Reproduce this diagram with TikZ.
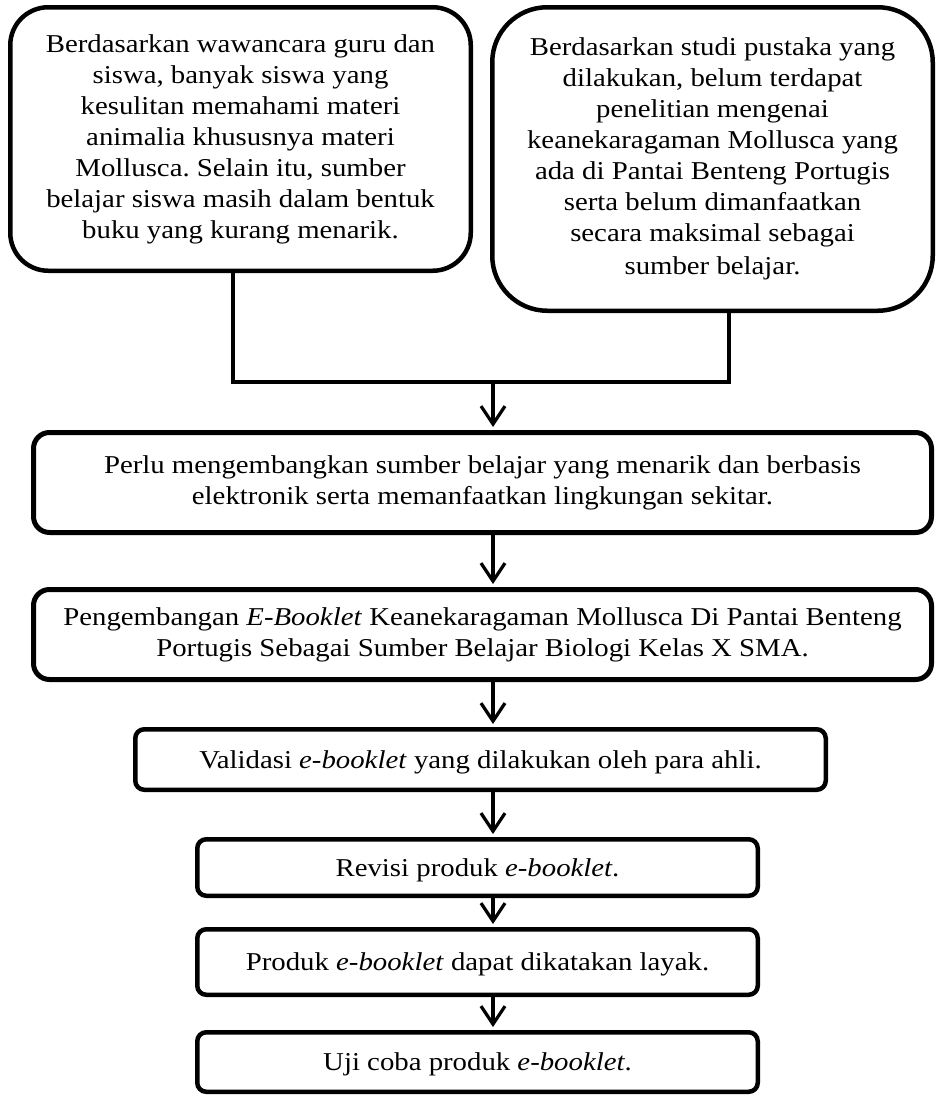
\documentclass[tikz,border=0pt]{standalone}
\usepackage{fontspec}
\setmainfont{Liberation Serif}[FakeStretch=1.12]
\usetikzlibrary{arrows.meta,calc}
\frenchspacing
\tikzset{
  box/.style={draw=black, fill=white, align=center, inner sep=0pt, font=\fontsize{25.7}{31}\selectfont},
  bigbox/.style={box, line width=4.5pt},
  midbox/.style={box, line width=5pt, rounded corners=16pt},
  smallbox/.style={box, line width=4.5pt, rounded corners=9pt, text height=17pt, text depth=0pt},
  conn/.style={line width=3.6pt},
  arr/.style={line width=3.2pt, -{Straight Barb[length=18pt,width=24pt]}, shorten >=3pt},
}
\begin{document}
\begin{tikzpicture}[x=1pt,y=-1pt]
\useasboundingbox (0,0) rectangle (937,1098);
\fill[white] (0,0) rectangle (937,1098);

\node[bigbox, rounded corners=38pt, minimum width=460.5pt, minimum height=263.5pt] (A) at (240.5,139)
 {Berdasarkan wawancara guru dan\\ siswa, banyak siswa yang\\ kesulitan memahami materi\\ animalia khususnya materi\\ Mollusca. Selain itu, sumber\\ belajar siswa masih dalam bentuk\\ buku yang kurang menarik.};

\node[bigbox, rounded corners=55pt, minimum width=440.5pt, minimum height=303.5pt] (B) at (712.5,159)
 {Berdasarkan studi pustaka yang\\ dilakukan, belum terdapat\\ penelitian mengenai\\ keanekaragaman Mollusca yang\\ ada di Pantai Benteng Portugis\\ serta belum dimanfaatkan\\ secara maksimal sebagai\\[2pt] sumber belajar.};

\node[midbox, minimum width=898pt, minimum height=100pt] (C) at (482.5,482.5)
 {Perlu mengembangkan sumber belajar yang menarik dan berbasis\\ elektronik serta memanfaatkan lingkungan sekitar.};

\node[midbox, minimum width=898pt, minimum height=90pt] (D) at (482.5,634.5)
 {Pengembangan \textit{E-Booklet} Keanekaragaman Mollusca Di Pantai Benteng\\ Portugis Sebagai Sumber Belajar Biologi Kelas X SMA.};

\node[smallbox, minimum width=690.5pt, minimum height=60.5pt] (E) at (480.5,759.5)
 {Validasi \textit{e-booklet} yang dilakukan oleh para ahli.};

\node[smallbox, minimum width=560.5pt, minimum height=56.5pt] (F) at (477.5,867.5)
 {Revisi produk \textit{e-booklet}.};

\node[smallbox, minimum width=560.5pt, minimum height=65.5pt] (G) at (477.5,962)
 {Produk \textit{e-booklet} dapat dikatakan layak.};

\node[smallbox, minimum width=560.5pt, minimum height=59.5pt] (H) at (477.5,1062)
 {Uji coba produk \textit{e-booklet}.};

\coordinate (tA) at (233,382);
\coordinate (tB) at (729,382);
\coordinate (J) at (493,382);
\coordinate (ax) at (493,0);

\draw[conn, line join=miter] (A.south -| tA) -- (tA) -- (tB) -- (B.south -| tB);
\draw[arr] (J) -- (C.north -| J);
\draw[arr] (C.south -| ax) -- (D.north -| ax);
\draw[arr] (D.south -| ax) -- (E.north -| ax);
\draw[arr] (E.south -| ax) -- (F.north -| ax);
\draw[arr] (F.south -| ax) -- (G.north -| ax);
\draw[arr] (G.south -| ax) -- (H.north -| ax);
\end{tikzpicture}
\end{document}
